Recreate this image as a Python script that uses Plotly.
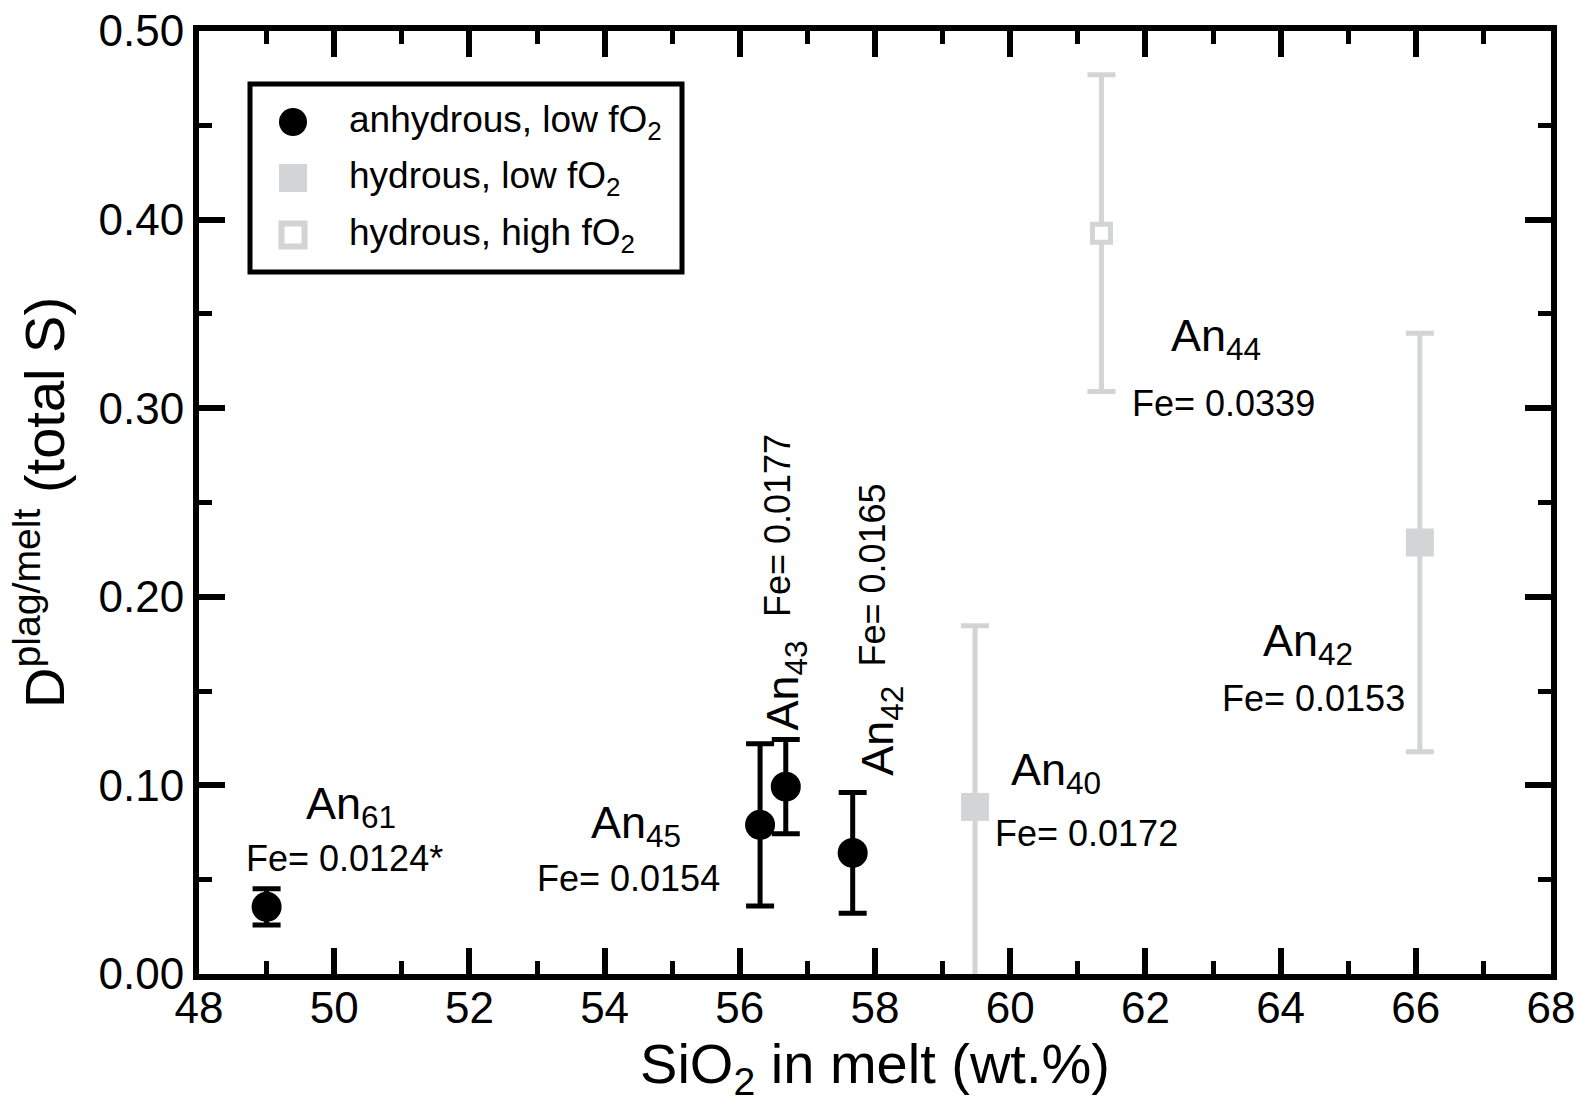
import plotly.graph_objects as go

# ---- data ----
anhyd_x = [49.0, 56.3, 56.68, 57.67]
anhyd_y = [0.0356, 0.0791, 0.0993, 0.0642]
anhyd_err = [0.0096, 0.043, 0.025, 0.032]

hydlow_x = [59.48, 66.06]
hydlow_y = [0.0886, 0.2288]
hydlow_err = [0.096, 0.111]

hydhigh_x = [61.35]
hydhigh_y = [0.3928]
hydhigh_err = [0.084]

x_ticks = list(range(48, 70, 2))
y_ticks = [0.0, 0.1, 0.2, 0.3, 0.4, 0.5]

legend_labels = ["anhydrous, low fO<sub>2</sub>",
                 "hydrous, low fO<sub>2</sub>",
                 "hydrous, high fO<sub>2</sub>"]

# labels: (text, x, y, angle)
labels_an = [
    ("An<sub>61</sub>", 50.25, 0.089, 0),
    ("An<sub>45</sub>", 54.47, 0.0786, 0),
    ("An<sub>40</sub>", 60.68, 0.107, 0),
    ("An<sub>44</sub>", 63.05, 0.337, 0),
    ("An<sub>42</sub>", 64.4, 0.175, 0),
    ("An<sub>43</sub>", 56.67, 0.153, -90),
    ("An<sub>42</sub>", 58.09, 0.129, -90),
]
labels_fe = [
    ("Fe= 0.0124*", 50.15, 0.061, 0),
    ("Fe= 0.0154", 54.36, 0.0504, 0),
    ("Fe= 0.0172", 61.13, 0.0743, 0),
    ("Fe= 0.0339", 63.16, 0.3025, 0),
    ("Fe= 0.0153", 64.49, 0.146, 0),
    ("Fe= 0.0177", 56.55, 0.238, -90),
    ("Fe= 0.0165", 57.97, 0.2118, -90),
]

GRAY = "#d3d4d5"
FONT = "Liberation Sans, Arial, sans-serif"

fig = go.Figure()

fig.add_trace(go.Scatter(
    x=hydlow_x, y=hydlow_y, mode="markers", showlegend=False,
    marker=dict(symbol="square", size=28, color=GRAY, line=dict(width=0)),
    error_y=dict(type="data", array=hydlow_err, color=GRAY, thickness=5, width=14),
))
fig.add_trace(go.Scatter(
    x=hydhigh_x, y=hydhigh_y, mode="markers", showlegend=False,
    marker=dict(symbol="square", size=18, color="white", line=dict(width=5, color=GRAY)),
    error_y=dict(type="data", array=hydhigh_err, color=GRAY, thickness=5, width=14),
))
fig.add_trace(go.Scatter(
    x=anhyd_x, y=anhyd_y, mode="markers", showlegend=False,
    marker=dict(symbol="circle", size=30, color="black", line=dict(width=0)),
    error_y=dict(type="data", array=anhyd_err, color="black", thickness=5, width=14),
))

annotations = []
for t, x, y, a in labels_an:
    annotations.append(dict(text=t, x=x, y=y, xref="x", yref="y", showarrow=False,
                            textangle=a, font=dict(size=45, color="black", family=FONT)))
for t, x, y, a in labels_fe:
    annotations.append(dict(text=t, x=x, y=y, xref="x", yref="y", showarrow=False,
                            textangle=a, font=dict(size=36, color="black", family=FONT)))

# custom legend (chrome) in paper coordinates
L, R, T, B = 199, 26, 31, 129
W, H = 1577, 1103
pw, ph = W - L - R, H - T - B
def px(v):
    return (v - L) / pw
def py(v):
    return (H - B - v) / ph

shapes = [dict(type="rect", xref="paper", yref="paper",
               x0=px(250), x1=px(682), y0=py(272), y1=py(84),
               line=dict(color="black", width=5), fillcolor="white", layer="above")]
sym_x = px(293)
sym_y = [py(122), py(178), py(235)]
shapes.append(dict(type="circle", xref="paper", yref="paper", xsizemode="pixel", ysizemode="pixel",
                   xanchor=sym_x, yanchor=sym_y[0], x0=-14, x1=14, y0=-14, y1=14,
                   fillcolor="black", line=dict(width=0), layer="above"))
shapes.append(dict(type="rect", xref="paper", yref="paper", xsizemode="pixel", ysizemode="pixel",
                   xanchor=sym_x, yanchor=sym_y[1], x0=-14, x1=14, y0=-14, y1=14,
                   fillcolor=GRAY, line=dict(width=0), layer="above"))
shapes.append(dict(type="rect", xref="paper", yref="paper", xsizemode="pixel", ysizemode="pixel",
                   xanchor=sym_x, yanchor=sym_y[2], x0=-11.5, x1=11.5, y0=-11.5, y1=11.5,
                   fillcolor="white", line=dict(width=6, color=GRAY), layer="above"))
for lab, yy in zip(legend_labels, sym_y):
    annotations.append(dict(text=lab, x=px(347), y=yy, xref="paper", yref="paper",
                            xanchor="left", yanchor="middle", showarrow=False,
                            font=dict(size=37, color="black", family=FONT)))

axis_common = dict(
    showline=True, linecolor="black", linewidth=6, mirror="ticks",
    ticks="inside", ticklen=26, tickwidth=6, tickcolor="black",
    showgrid=False, zeroline=False, automargin=False,
    tickfont=dict(size=44, color="black", family=FONT),
)

fig.update_layout(
    width=W, height=H,
    margin=dict(l=L, r=R, t=T, b=B),
    paper_bgcolor="white", plot_bgcolor="white",
    showlegend=False,
    font=dict(family=FONT, color="black"),
    xaxis=dict(range=[48, 68], tickvals=x_ticks, ticktext=[str(v) for v in x_ticks],
               ticklabelstandoff=-10,
               minor=dict(ticks="inside", ticklen=13, tickwidth=5, tickcolor="black", dtick=1, showgrid=False),
               title=dict(text="SiO<sub>2</sub> in melt (wt.%)", font=dict(size=56, family=FONT), standoff=10),
               **axis_common),
    yaxis=dict(range=[0, 0.5], tickvals=y_ticks, ticktext=[f"{v:.2f}" for v in y_ticks],
               minor=dict(ticks="inside", ticklen=13, tickwidth=5, tickcolor="black", dtick=0.05, showgrid=False),
               title=dict(text="D<sup>plag/melt</sup> (total S)", font=dict(size=56, family=FONT), standoff=18),
               **axis_common),
    annotations=annotations,
    shapes=shapes,
)

fig.write_html("out.html", config={"displayModeBar": False},
               post_script="document.body.style.margin='0';")
